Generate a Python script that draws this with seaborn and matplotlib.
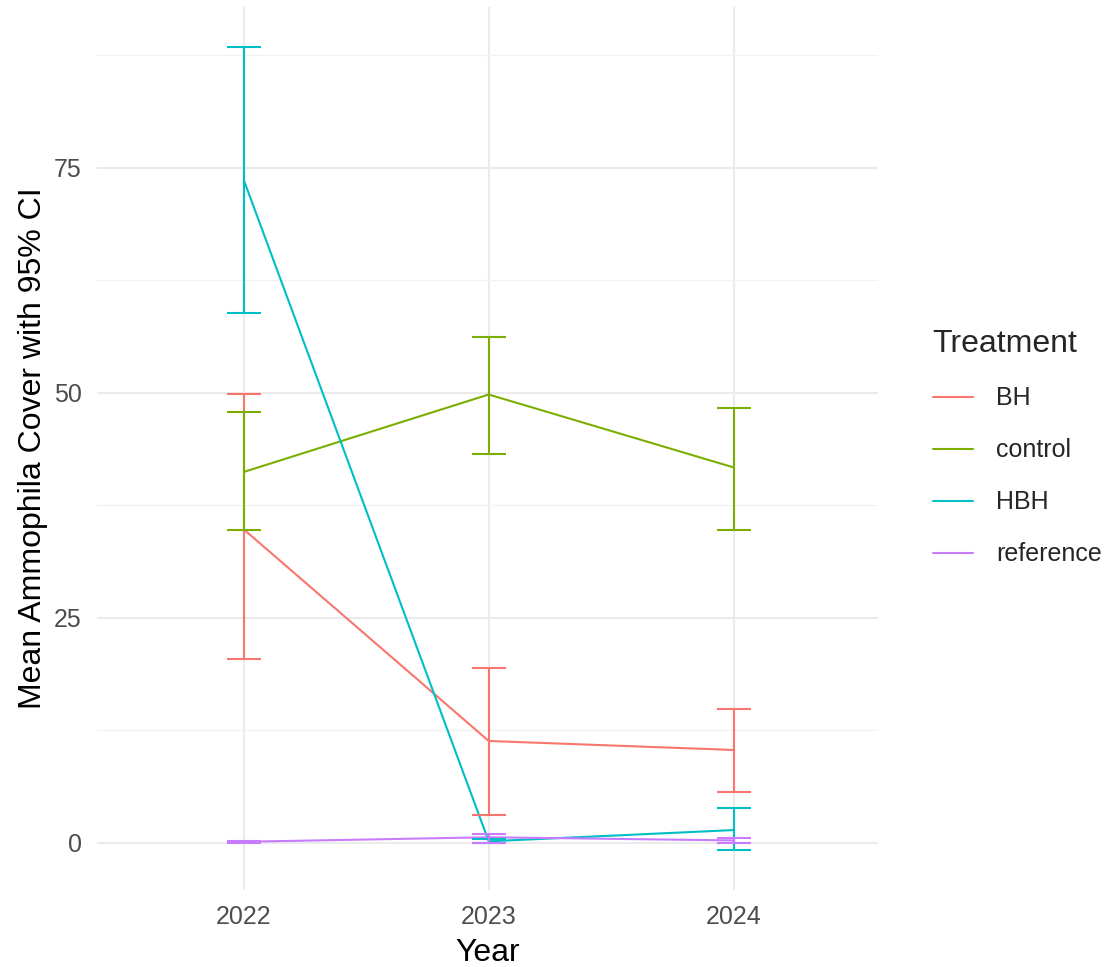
import numpy as np
import pandas as pd
import matplotlib
matplotlib.use("Agg")
import matplotlib.pyplot as plt
import seaborn as sns

years = [2022, 2023, 2024]
treatments = ["BH", "control", "HBH", "reference"]
colors = ["#F8766D", "#7CAE00", "#00BFC4", "#C77CFF"]

bh_mean = [34.8, 11.3, 10.3]
bh_low = [20.4, 3.1, 5.6]
bh_high = [49.9, 19.4, 14.9]

control_mean = [41.2, 49.8, 41.7]
control_low = [34.7, 43.2, 34.7]
control_high = [47.9, 56.2, 48.3]

hbh_mean = [73.6, 0.15, 1.4]
hbh_low = [58.9, 0.0, -0.8]
hbh_high = [88.4, 0.4, 3.8]

ref_mean = [0.1, 0.6, 0.25]
ref_low = [0.0, 0.0, 0.0]
ref_high = [0.2, 1.0, 0.5]

means = [bh_mean, control_mean, hbh_mean, ref_mean]
lows = [bh_low, control_low, hbh_low, ref_low]
highs = [bh_high, control_high, hbh_high, ref_high]

rows = []
for t, m, lo, hi in zip(treatments, means, lows, highs):
    for y, mv, l, h in zip(years, m, lo, hi):
        rows.append({"Year": y, "Treatment": t, "mean": mv, "low": l, "high": h})
df = pd.DataFrame(rows)

sns.set_theme(style="whitegrid")
plt.rcParams['font.family'] = ['Liberation Sans', 'DejaVu Sans']

fig = plt.figure(figsize=(11.2, 9.67), dpi=100)
ax = fig.add_axes([97/1120, 1-890/967, 781/1120, 883/967])
ax.set_facecolor("white")

palette = dict(zip(treatments, colors))
sns.lineplot(data=df, x="Year", y="mean", hue="Treatment", hue_order=treatments,
             palette=palette, ax=ax, linewidth=1.5, estimator=None, errorbar=None,
             zorder=3)

for t in treatments:
    sub = df[df["Treatment"] == t]
    ax.errorbar(sub["Year"], sub["mean"],
                yerr=[sub["mean"] - sub["low"], sub["high"] - sub["mean"]],
                fmt="none", ecolor=palette[t], elinewidth=1.5, capsize=12.2,
                capthick=1.5, zorder=3)

ax.set_xlim(2021.4, 2024.59)
ax.set_ylim(-5.26, 92.86)
ax.set_xticks(years)
ax.set_xticklabels([str(y) for y in years])
ax.set_yticks([0, 25, 50, 75])
ax.set_yticks([12.5, 37.5, 62.5, 87.5], minor=True)
ax.grid(True, which="major", color="#EBEBEB", linewidth=1.5)
ax.grid(True, which="minor", axis="y", color="#F2F2F2", linewidth=0.9)
ax.grid(False, which="minor", axis="x")
for s in ax.spines.values():
    s.set_visible(False)
ax.tick_params(axis="both", which="both", length=0, labelsize=18, labelcolor="#4D4D4D")
ax.tick_params(axis="y", pad=11)
ax.tick_params(axis="x", pad=11)

ax.set_xlabel("Year", fontsize=23, color="black", labelpad=6)
ax.set_ylabel("Mean Ammophila Cover with 95% CI", fontsize=23, color="black", labelpad=4)

handles, labels = ax.get_legend_handles_labels()
ax.get_legend().remove()
leg = fig.legend(handles, labels, title="Treatment", loc="upper left",
                 bbox_to_anchor=(910/1120, 1-306/967), frameon=False,
                 fontsize=18, title_fontsize=23, handlelength=1.6,
                 handletextpad=0.95, labelspacing=1.12)
leg._legend_box.align = "left"
leg._legend_box.sep = 20
for line in leg.get_lines():
    line.set_linewidth(1.5)

fig.savefig("out.png", dpi=100, facecolor="white")
